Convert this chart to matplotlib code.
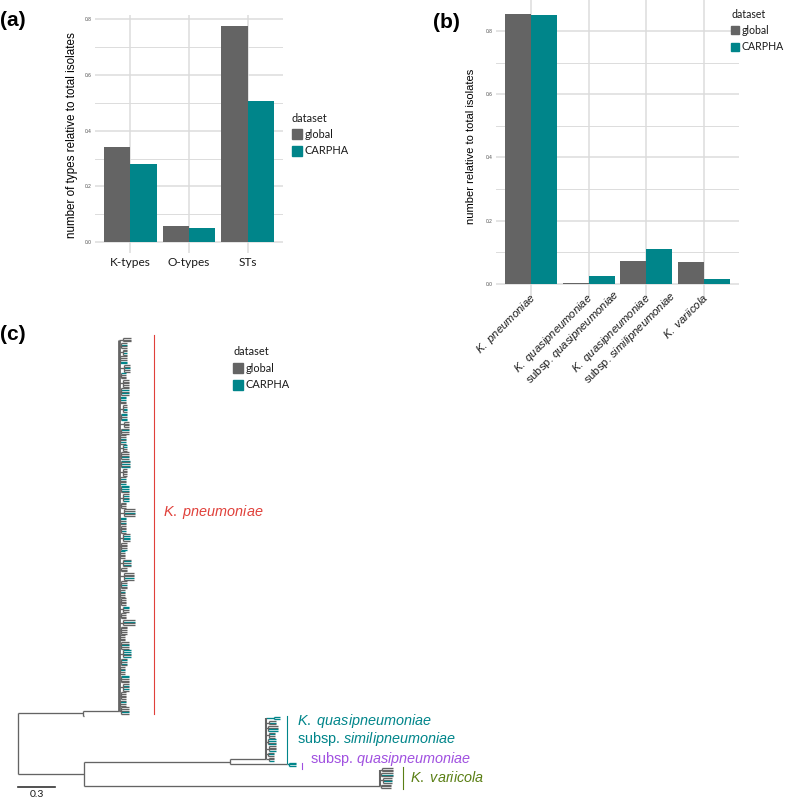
import matplotlib
matplotlib.use('Agg')
import matplotlib.pyplot as plt
from matplotlib.patches import Rectangle

plt.rcParams['font.family'] = ['Liberation Sans', 'DejaVu Sans']
plt.rcParams['mathtext.fontset'] = 'custom'
plt.rcParams['mathtext.rm'] = 'Liberation Sans'
plt.rcParams['mathtext.it'] = 'Liberation Sans:italic'
plt.rcParams['mathtext.bf'] = 'Liberation Sans:bold'

GRAY = '#646464'
TEAL = '#00858A'
GRID = '#DCDCDC'
LEGFONT = ['Lato', 'DejaVu Sans']

# ---------------- data ----------------
datasets = ['global', 'CARPHA']

a_categories = ['K-types', 'O-types', 'STs']
a_global = [0.340, 0.057, 0.776]
a_carpha = [0.281, 0.052, 0.506]

b_categories = ['K. pneumoniae',
                'K. quasipneumoniae\nsubsp. quasipneumoniae',
                'K. quasipneumoniae\nsubsp. similipneumoniae',
                'K. variicola']
b_global = [0.855, 0.004, 0.073, 0.069]
b_carpha = [0.850, 0.025, 0.110, 0.015]

# tree: g = global tip, c = CARPHA tip; subclades listed top to bottom
kpn_tips = ["ggg", "gcgg", "ggcg", "gggcc", "ggcgg", "cggg", "ggggg", "gcgcg",
            "cccgg", "ggccg", "ccgcc", "gggg", "gcgg", "ggcgcg", "ccgg", "gggcg",
            "cgcgc", "ggggg", "gcggc", "ccccg", "gcgcc", "gggg", "ggcgg", "ccgcg",
            "gggcg", "gcccg", "ggggc", "cgggg", "gcgcg", "ggg", "gggcg", "ggcgg",
            "gcggg", "ggggg", "ccgg", "gggg", "gcgg", "ggggg", "gggg", "ggcgg",
            "cccgc", "gcgcg", "ggcgg", "ccggg", "gcgcg", "ggggg", "gcgg", "gggcg"]
kpn_bl = [0.03, 0.02, 0.03, 0.01, 0.04, 0.02, 0.03, 0.02,
          0.01, 0.03, 0.02, 0.04, 0.02, 0.01, 0.03, 0.02,
          0.02, 0.03, 0.01, 0.02, 0.03, 0.02, 0.04, 0.01,
          0.02, 0.03, 0.02, 0.01, 0.03, 0.02, 0.04, 0.02,
          0.01, 0.02, 0.03, 0.02, 0.03, 0.02, 0.01, 0.02,
          0.03, 0.02, 0.01, 0.02, 0.03, 0.02, 0.01, 0.02]
kpn_tl = [0.07, 0.05, 0.04, 0.06, 0.05, 0.04, 0.05, 0.06,
          0.05, 0.04, 0.05, 0.04, 0.06, 0.05, 0.04, 0.06,
          0.07, 0.04, 0.05, 0.06, 0.05, 0.04, 0.09, 0.05,
          0.04, 0.06, 0.05, 0.04, 0.07, 0.05, 0.08, 0.05,
          0.04, 0.04, 0.05, 0.04, 0.10, 0.05, 0.04, 0.06,
          0.07, 0.05, 0.04, 0.06, 0.05, 0.04, 0.05, 0.06]
sim_tips = ["cc", "gcg", "ggcc", "gcgg", "ccgc", "gggc", "gcg", "ggc"]
sim_bl = [0.06, 0.02, 0.01, 0.02, 0.01, 0.02, 0.01, 0.02]
sim_tl = [0.05, 0.06, 0.08, 0.05, 0.07, 0.06, 0.05, 0.04]
qua_tips = ["ccc"]
qua_bl = [0.01]
qua_tl = [0.06]
var_tips = ["ggg", "gcg", "ggcg", "ggg"]
var_bl = [0.02, 0.01, 0.03, 0.01]
var_tl = [0.09, 0.10, 0.07, 0.08]

# backbone node depths (substitutions / site)
kpn_spine_x = 0.82
kpn_stem_node_x = 0.53
kpn_outlier_len = 0.01
lower_node_x = 0.54
qk_node_x = 1.72
sim_spine_x = 2.02
qua_spine_x = 2.19
var_spine_x = 2.94
scale_len = 0.3

# ---------------- figure ----------------
W, H = 787, 800
fig = plt.figure(figsize=(W / 100, H / 100), dpi=100)


def fx(px):
    return px / W


def fy(py):
    return 1 - py / H


def legend(x, y_title, key=10, fs=7.9, gap=12.5):
    fig.text(fx(x), fy(y_title), 'dataset', fontsize=fs, family=LEGFONT,
             ha='left', va='center', color='#1A1A1A')
    for i, (lab, col) in enumerate(zip(datasets, [GRAY, TEAL])):
        yc = y_title + 16 + 17 * i
        fig.patches.append(Rectangle((fx(x), fy(yc + key / 2)), key / W, key / H,
                                     transform=fig.transFigure, color=col))
        fig.text(fx(x + gap), fy(yc), lab, fontsize=fs, family=LEGFONT,
                 ha='left', va='center', color='#1A1A1A')


def style_bar_axes(ax, ncat, ylim):
    ax.set_xlim(-0.6, ncat - 0.4)
    ax.set_ylim(*ylim)
    ax.set_yticks([0, 0.2, 0.4, 0.6, 0.8])
    ax.set_yticklabels(['0.0', '0.2', '0.4', '0.6', '0.8'])
    ax.set_yticks([0.1, 0.3, 0.5, 0.7], minor=True)
    ax.set_xticks(range(ncat))
    ax.grid(which='major', axis='both', color=GRID, lw=1.1)
    ax.grid(which='minor', axis='y', color=GRID, lw=0.7)
    ax.set_axisbelow(True)
    for s in ax.spines.values():
        s.set_visible(False)
    ax.tick_params(which='both', length=0)
    ax.tick_params(axis='y', labelsize=3.5, labelcolor='#4D4D4D', pad=2.5)


def italicize(label):
    lines = []
    for line in label.split('\n'):
        words = []
        for w in line.split(' '):
            words.append(w if w == 'subsp.' else r'$\mathit{' + w + '}$')
        lines.append(' '.join(words))
    return '\n'.join(lines)


# ---- panel (a)
ax_a = fig.add_axes([fx(95), fy(253), fx(283) - fx(95), (253 - 15) / H])
xa = list(range(len(a_categories)))
ax_a.bar([x - 0.225 for x in xa], a_global, width=0.45, color=GRAY)
ax_a.bar([x + 0.225 for x in xa], a_carpha, width=0.45, color=TEAL)
style_bar_axes(ax_a, len(a_categories), (-0.0388, 0.8148))
ax_a.set_xticklabels(a_categories, fontsize=8.6, family=LEGFONT, color='#1A1A1A')
ax_a.tick_params(axis='x', pad=3)
fig.text(fx(72), fy(135), 'number of types relative to total isolates',
         rotation=90, ha='center', va='center', fontsize=8.4)
legend(292, 118)

# ---- panel (b)
ax_b = fig.add_axes([fx(496), fy(297.5), fx(739) - fx(496), 297.5 / H])
xb = list(range(len(b_categories)))
ax_b.bar([x - 0.225 for x in xb], b_global, width=0.45, color=GRAY)
ax_b.bar([x + 0.225 for x in xb], b_carpha, width=0.45, color=TEAL)
style_bar_axes(ax_b, len(b_categories), (-0.0428, 0.8978))
ax_b.set_xticklabels([])
fig.text(fx(471), fy(146), 'number relative to total isolates',
         rotation=90, ha='center', va='center', fontsize=8.0)
legend(731, 14, key=8, fs=7.6, gap=10.5)

# rotated category labels: first line ends at the tick, lines left-aligned
renderer = fig.canvas.get_renderer()
FS_B = 8.1
for i, lab in enumerate(b_categories):
    txt = italicize(lab)
    tmp = fig.text(0, 0, txt.split('\n')[0], fontsize=FS_B)
    w = tmp.get_window_extent(renderer).width
    tmp.remove()
    xd, _ = ax_b.transData.transform((i, 0))
    ax_d = xd - 2
    ay_d = fy(291) * H
    sx = ax_d - w * 0.7071
    sy = ay_d - w * 0.7071
    fig.text(sx / W, sy / H, txt, fontsize=FS_B, rotation=45, rotation_mode='anchor',
             ha='left', va='top', multialignment='left', color='#1A1A1A')

# ---- panel (c): tree
segs = []
rank = [0]


def add(x0, y0, x1, y1, col, lw=0.95):
    segs.append((x0, y0, x1, y1, col, lw))


def comb(tips_list, bls, tls, spine_x, spine_lw=0.95):
    node_ys = []
    for tips, bl, tl in zip(tips_list, bls, tls):
        ys = []
        for _ in tips:
            ys.append(rank[0])
            rank[0] += 1
        nx = spine_x + bl
        for ch, y in zip(tips, ys):
            add(nx, y, nx + tl, y, TEAL if ch == 'c' else GRAY)
        allc = all(ch == 'c' for ch in tips)
        icol = TEAL if allc else GRAY
        if len(ys) > 1:
            add(nx, ys[0], nx, ys[-1], icol)
        ny = (ys[0] + ys[-1]) / 2
        add(spine_x, ny, nx, ny, icol)
        node_ys.append(ny)
    if len(node_ys) > 1:
        add(spine_x, node_ys[0], spine_x, node_ys[-1], GRAY, spine_lw)
    return node_ys[-1]


kpn_top = rank[0]
y_kpn = comb(kpn_tips, kpn_bl, kpn_tl, kpn_spine_x, spine_lw=2.0)
kpn_bot = rank[0] - 1
y_out = rank[0]
rank[0] += 1
sim_top = rank[0]
y_sim = comb(sim_tips, sim_bl, sim_tl, sim_spine_x, spine_lw=1.5)
sim_bot = rank[0] - 1
qua_top = rank[0]
y_qua = comb(qua_tips, qua_bl, qua_tl, qua_spine_x)
qua_bot = rank[0] - 1
var_top = rank[0]
y_var = comb(var_tips, var_bl, var_tl, var_spine_x, spine_lw=1.5)
var_bot = rank[0] - 1
N = rank[0]

# backbone
add(kpn_stem_node_x, y_kpn, kpn_spine_x, y_kpn, GRAY)
add(kpn_stem_node_x, y_out, kpn_stem_node_x + kpn_outlier_len, y_out, GRAY)
add(kpn_stem_node_x, y_kpn, kpn_stem_node_x, y_out, GRAY)
y_A = (y_kpn + y_out) / 2
add(qk_node_x, y_sim, sim_spine_x, y_sim, GRAY)
add(qk_node_x, y_qua, qua_spine_x, y_qua, GRAY)
add(qk_node_x, y_sim, qk_node_x, y_qua, GRAY)
y_C = (y_sim + y_qua) / 2
add(lower_node_x, y_C, qk_node_x, y_C, GRAY)
add(lower_node_x, y_var, var_spine_x, y_var, GRAY)
add(lower_node_x, y_C, lower_node_x, y_var, GRAY)
y_B = (y_C + y_var) / 2
add(0, y_A, kpn_stem_node_x, y_A, GRAY)
add(0, y_B, lower_node_x, y_B, GRAY)
add(0, y_A, 0, y_B, GRAY)

ppr = 450 / (N - 1)          # pixels per tip row
ax_t = fig.add_axes([0, 0, 1, fy(300)])
ax_t.set_xlim((0 - 18) / 123, (W - 18) / 123)
ax_t.set_ylim((800 - 338) / ppr, (300 - 338) / ppr)
ax_t.axis('off')


def ry(py):
    return (py - 338) / ppr


def rx(px):
    return (px - 18) / 123


for x0, y0, x1, y1, col, lw in segs:
    ax_t.plot([x0, x1], [y0, y1], color=col, lw=lw, solid_capstyle='butt')

# clade labels
ax_t.plot([rx(154)] * 2, [kpn_top - 2, kpn_bot], color='#E0403A', lw=0.8)
ax_t.text(rx(163), ry(512), r'$\mathit{K.}$ $\mathit{pneumoniae}$', color='#E0403A',
          fontsize=10.4, ha='left', va='center')
ax_t.plot([rx(287)] * 2, [sim_top - 1, sim_bot + 1], color=TEAL, lw=0.8)
ax_t.text(rx(297), ry(721), r'$\mathit{K.}$ $\mathit{quasipneumoniae}$', color=TEAL,
          fontsize=10.4, ha='left', va='center')
ax_t.text(rx(297), ry(739), r'subsp. $\mathit{similipneumoniae}$', color=TEAL,
          fontsize=10.4, ha='left', va='center')
ax_t.plot([rx(302)] * 2, [qua_top, qua_bot + 1.5], color='#A050E0', lw=0.8)
ax_t.text(rx(310), ry(759), r'subsp. $\mathit{quasipneumoniae}$', color='#A050E0',
          fontsize=10.4, ha='left', va='center')
ax_t.plot([rx(403)] * 2, [var_top - 0.5, var_bot + 0.5], color='#5A7F14', lw=0.8)
ax_t.text(rx(410), ry(778), r'$\mathit{K.}$ $\mathit{variicola}$', color='#5A7F14',
          fontsize=10.4, ha='left', va='center')

# scale bar
ax_t.plot([0, scale_len], [ry(787)] * 2, color='#333333', lw=1.2)
ax_t.text(scale_len / 2, ry(794.5), '0.3', fontsize=7.5, family=LEGFONT,
          ha='center', va='center', color='#1A1A1A')
legend(233, 352)

# panel labels
for lab, x, y in [('(a)', 0, 21), ('(b)', 433, 22), ('(c)', 0, 335)]:
    fig.text(fx(x), fy(y), lab, fontsize=15, fontweight='bold', ha='left', va='center')

fig.savefig('out.png', dpi=100)
